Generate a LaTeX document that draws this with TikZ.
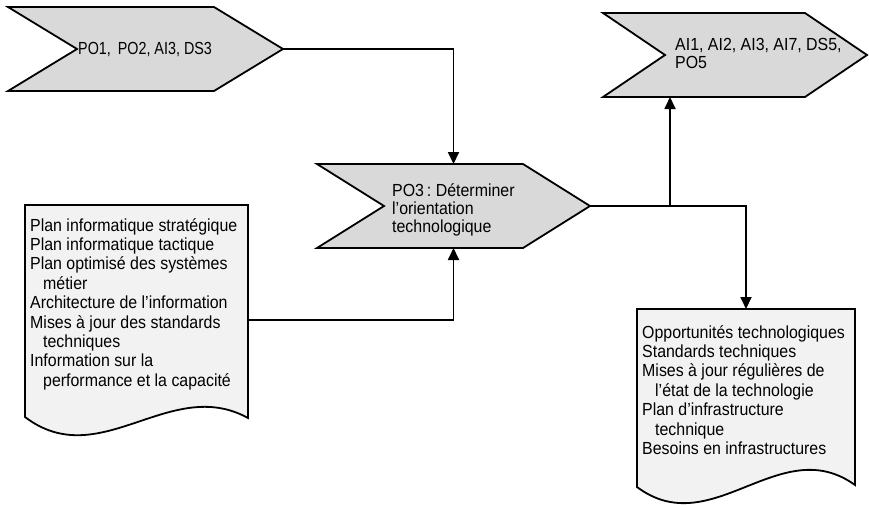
\documentclass[tikz,border=0pt]{standalone}
\usepackage{fontspec}
\setmainfont{Liberation Sans}[FakeStretch=0.91]
\newfontfamily\etroite{Liberation Sans}[FakeStretch=0.82]
\usetikzlibrary{arrows.meta}

\definecolor{grischev}{RGB}{217,217,217}
\definecolor{grisdoc}{RGB}{242,242,242}

% chevron drawn round a named box: #1 node, #2 depth of tip and notch
\newcommand{\chevron}[2]{%
\draw[trait, fill=grischev] (#1.north west) -- ([xshift=-#2pt]#1.north east) -- (#1.east)
  -- ([xshift=-#2pt]#1.south east) -- (#1.south west) -- ([xshift=#2pt]#1.west) -- cycle;}

\tikzset{
  boite/.style={inner sep=0pt, outer sep=0pt},
  texte/.style={inner sep=0pt, align=left, font=\fontsize{17.5}{18}\selectfont},
  textedoc/.style={texte, font=\fontsize{17.5}{19.4}\selectfont},
  trait/.style={line width=1.8pt},
  fleche/.style={trait, -{Triangle[length=12pt,width=11pt]}},
}

\begin{document}
\begin{tikzpicture}[x=1pt, y=-1pt]
\useasboundingbox (0,0) rectangle (869,504);

% boxes
\node[boite, minimum width=275pt, minimum height=84pt] (in1) at (145.5, 49) {};
\node[boite, minimum width=273pt, minimum height=84pt] (po3) at (453.5, 206) {};
\node[boite, minimum width=264pt, minimum height=84pt] (out1) at (735, 55) {};
\node[boite, minimum width=223pt, minimum height=230pt] (doc1) at (136.5, 320) {};
\node[boite, minimum width=218pt, minimum height=194pt] (doc2) at (746, 406) {};

\chevron{in1}{69}
\chevron{po3}{67}
\chevron{out1}{62}

\draw[trait, fill=grisdoc] (doc1.north west) -- (doc1.north east) -- ([yshift=17pt]doc1.south east)
  .. controls ([shift={(-78pt,60pt)}]doc1.south east) and ([shift={(75pt,-39pt)}]doc1.south west)
  .. ([yshift=18pt]doc1.south west) -- cycle;
\draw[trait, fill=grisdoc] (doc2.north west) -- (doc2.north east) -- ([yshift=18pt]doc2.south east)
  .. controls ([shift={(-75pt,72pt)}]doc2.south east) and ([shift={(75pt,-40pt)}]doc2.south west)
  .. ([yshift=16pt]doc2.south west) -- cycle;

% texts
\node[texte, anchor=west, font=\etroite\fontsize{17.5}{18}\selectfont] (in1txt) at (78, 50) {PO1,\, PO2, AI3, DS3};
\node[texte, anchor=north west] (po3txt) at (392, 183.5) {PO3\,:\ Déterminer\\l’orientation\\technologique};
\node[texte, anchor=north west] (out1txt) at (675, 38.5) {AI1, AI2, AI3, AI7, DS5,\\PO5};
\node[textedoc, anchor=north west] (doc1txt) at (30, 218) {Plan informatique stratégique\\
Plan informatique tactique\\
Plan optimisé des systèmes\\
\hspace*{13pt}métier\\
Architecture de l’information\\
Mises à jour des standards\\
\hspace*{13pt}techniques\\
Information sur la\\
\hspace*{13pt}performance et la capacité};
\node[textedoc, anchor=north west] (doc2txt) at (642, 325) {Opportunités technologiques\\
Standards techniques\\
Mises à jour régulières de\\
\hspace*{13pt}l’état de la technologie\\
Plan d’infrastructure\\
\hspace*{13pt}technique\\
Besoins en infrastructures};

% connectors
\coordinate (embr) at (670, 206);
\draw[fleche] (in1.east) -| (po3.north);
\draw[fleche] (doc1.east) -| (po3.south);
\draw[fleche] (po3.east) -| (doc2.north);
\draw[fleche] (embr) -- (embr |- out1.south);

\end{tikzpicture}
\end{document}
